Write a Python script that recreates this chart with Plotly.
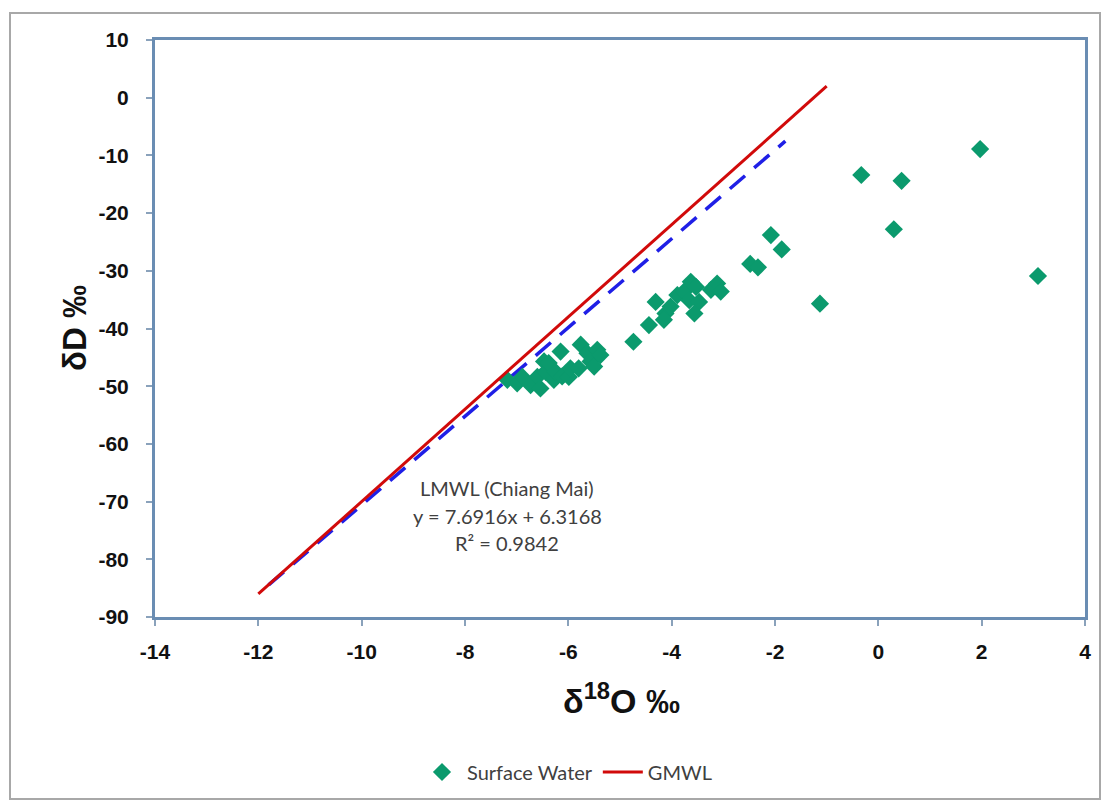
import plotly.graph_objects as go

# Surface water isotope data (delta 18O, delta D)
sw_d18o = [-7.18, -6.99, -6.89, -6.73, -6.60, -6.54, -6.47, -6.44, -6.38, -6.28,
           -6.25, -6.15, -6.12, -5.99, -5.96, -5.80, -5.76, -5.63, -5.57, -5.50,
           -5.44, -5.38, -4.74, -4.44, -4.31, -4.12, -4.15, -4.02, -3.89, -3.76,
           -3.63, -3.53, -3.66, -3.47, -3.56, -3.24, -3.12, -3.05, -2.48, -2.33,
           -2.08, -1.87, -1.13, -0.33, 0.45, 0.30, 1.97, 3.09]
sw_dD = [-48.9, -49.5, -48.4, -49.8, -48.4, -50.4, -45.7, -47.5, -46.0, -48.9,
         -47.5, -44.0, -48.3, -48.4, -46.9, -46.9, -42.8, -44.3, -45.7, -46.6,
         -43.7, -44.6, -42.3, -39.4, -35.4, -37.4, -38.5, -36.2, -34.2, -33.6,
         -31.9, -32.8, -35.1, -35.4, -37.4, -33.3, -32.2, -33.6, -28.8, -29.4,
         -23.8, -26.3, -35.7, -13.4, -14.4, -22.8, -8.9, -30.9]

# Global meteoric water line (dD = 8 d18O + 10)
gmwl_x = [-12, -1]
gmwl_y = [-86, 2]

# Local meteoric water line (Chiang Mai)
lmwl_slope = 7.6916
lmwl_intercept = 6.3168
lmwl_x = [-11.8, -1.8]
lmwl_y = [lmwl_slope * v + lmwl_intercept for v in lmwl_x]

x_ticks = [-14, -12, -10, -8, -6, -4, -2, 0, 2, 4]
x_ticktext = ["-14", "-12", "-10", "-8", "-6", "-4", "-2", "0", "2", "4"]
y_ticks = [10, 0, -10, -20, -30, -40, -50, -60, -70, -80, -90]
y_ticktext = ["10", "0", "-10", "-20", "-30", "-40", "-50", "-60", "-70", "-80", "-90"]

W, H = 1107, 803
L, R, T, B = 155, 22, 40, 186
pw, ph = W - L - R, H - T - B

def px(xp):
    return (xp - L) / pw

def py(yp):
    return (H - B - yp) / ph

fig = go.Figure()

fig.add_trace(go.Scatter(
    x=lmwl_x, y=lmwl_y, mode="lines", showlegend=False,
    line=dict(color="#1f1fe6", width=3.5, dash="20px,12px"), name="LMWL"))
fig.add_trace(go.Scatter(
    x=sw_d18o, y=sw_dD, mode="markers", name="Surface Water",
    marker=dict(symbol="diamond", size=14, color="#0b9a6d")))
fig.add_trace(go.Scatter(
    x=gmwl_x, y=gmwl_y, mode="lines", name="GMWL",
    line=dict(color="#d10a0a", width=3)))

axis_color = "#6a8db3"
tick_font = dict(family="Liberation Sans", size=21, color="#111111")
fig.update_xaxes(range=[-14, 4], tickvals=x_ticks,
                 ticktext=["<b>" + t + "</b>" for t in x_ticktext],
                 showgrid=False, zeroline=False,
                 showline=True, linecolor=axis_color, linewidth=3, mirror=True,
                 ticks="outside", ticklen=6, tickwidth=2, tickcolor="#8aa2bb",
                 tickfont=tick_font, ticklabelstandoff=8)
fig.update_yaxes(range=[-90, 10], tickvals=y_ticks,
                 ticktext=["<b>" + t + "</b>" for t in y_ticktext],
                 showgrid=False, zeroline=False,
                 showline=True, linecolor=axis_color, linewidth=3, mirror=True,
                 ticks="outside", ticklen=6, tickwidth=2, tickcolor="#8aa2bb",
                 tickfont=tick_font, ticklabelstandoff=13)

ann_x = -7.18
annots = [
    dict(x=ann_x, y=py(488), text="LMWL (Chiang Mai)"),
    dict(x=ann_x, y=py(516), text="y = 7.6916x + 6.3168"),
    dict(x=ann_x, y=py(543), text="R² = 0.9842"),
]
for a in annots:
    fig.add_annotation(xref="x", yref="paper", showarrow=False, xanchor="center",
                       yanchor="middle",
                       font=dict(family="Lato", size=20, color="#404040"), **a)

fig.add_annotation(x=px(621), y=py(698), xref="paper", yref="paper", showarrow=False,
                   text="<b>δ<sup>18</sup>O ‰</b>", xanchor="center", yanchor="middle",
                   font=dict(family="Liberation Sans", size=34, color="#111111"))
fig.add_annotation(x=px(74), y=py(328), xref="paper", yref="paper", showarrow=False,
                   text="<b>δD ‰</b>", textangle=-90, xanchor="center", yanchor="middle",
                   font=dict(family="Liberation Sans", size=33, color="#111111"))

fig.add_shape(type="rect", xref="paper", yref="paper",
              x0=px(10), x1=px(1100), y0=py(799), y1=py(13),
              line=dict(color="#a8a8a8", width=2))

fig.update_layout(
    width=W, height=H, margin=dict(l=L, r=R, t=T, b=B),
    paper_bgcolor="white", plot_bgcolor="white",
    legend=dict(orientation="h", x=px(567), y=py(772), xanchor="center", yanchor="middle",
                font=dict(family="Lato", size=20, color="#404040"),
                bgcolor="rgba(0,0,0,0)", itemwidth=40),
)

fig.write_html("out.html")
